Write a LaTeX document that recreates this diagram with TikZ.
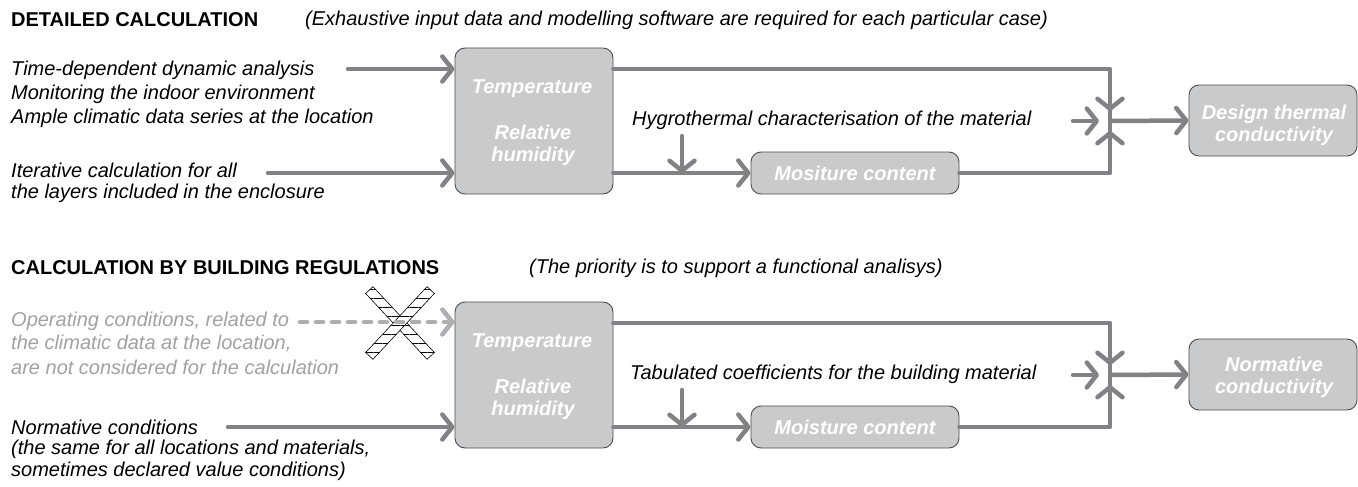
\documentclass[tikz,border=0pt]{standalone}
\usepackage{fontspec}
\setmainfont{Liberation Sans}
\usetikzlibrary{arrows.meta,patterns.meta}
\definecolor{connc}{RGB}{128,130,133}
\definecolor{boxfill}{RGB}{201,202,204}
\definecolor{boxline}{RGB}{77,77,79}
\definecolor{greytext}{RGB}{160,162,165}
\definecolor{dashgrey}{RGB}{172,174,177}
\begin{document}
\begin{tikzpicture}[x=1pt,y=-1pt,
  conn/.style={draw=connc, line width=4.5pt, line cap=round, line join=round},
  arr/.style={conn, -{Straight Barb[length=10pt,width=25pt,round]}},
  dashline/.style={draw=dashgrey, line width=4.5pt, line cap=round, dash pattern=on 7pt off 9pt, -{Straight Barb[length=10pt,width=25pt,round]}},
  boxstyle/.style={draw=boxline, fill=boxfill, line width=0.9pt, rounded corners=10pt, inner sep=0pt},
  btext/.style={text=white, font=\fontsize{20}{22}\selectfont\bfseries\itshape, align=center, inner sep=0pt},
  txt/.style={anchor=west, inner sep=0pt, font=\fontsize{20}{24}\selectfont\itshape},
  gtxt/.style={txt, text=greytext},
  title/.style={anchor=west, inner sep=0pt, font=\fontsize{20}{24}\selectfont\bfseries},
  xbar/.style={draw=black, line width=0.6pt, preaction={fill=white}, pattern={Lines[angle=0,distance=9pt,line width=0.6pt]}, minimum width=90pt, minimum height=10pt, inner sep=0pt}
]
\fill[white] (0,0) rectangle (1358,487);
\useasboundingbox (0,0) rectangle (1358,487);

% ---------- top section ----------
\node[title] (T1) at (11,20) {DETAILED CALCULATION};
\node[txt] (S1) at (305,20) {(Exhaustive input data and modelling software are required for each particular case)};

\node[txt] (a1) at (11,70) {Time-dependent dynamic analysis};
\node[txt] (a2) at (11,94) {Monitoring the indoor environment};
\node[txt] (a3) at (11,118) {Ample climatic data series at the location};
\node[txt] (a4) at (11,170) {Iterative calculation for all};
\node[txt] (a5) at (11,193) {the layers included in the enclosure};

\node[boxstyle, minimum width=158pt, minimum height=146pt] (B1) at (534,121) {};
\node[btext] (tp1) at (532,89) {Temperature};
\node[btext] (rh1) at (533,145) {Relative\\humidity};
\node[boxstyle, btext, minimum width=208pt, minimum height=42pt] (M1) at (855,173) {Mositure content};
\node[boxstyle, minimum width=168pt, minimum height=71pt] (D1) at (1273,120.5) {};
\node[btext] (D1t) at (1274,125) {Design thermal\\conductivity};
\node[txt] (h1) at (632,120) {Hygrothermal characterisation of the material};

\coordinate (i1) at (348,69);
\coordinate (i2) at (268,173);
\coordinate (c1) at (1110,69);
\coordinate (c2) at (1110,173);
\coordinate (J1) at (1110,121);
\coordinate (J1t) at (1110,111);
\coordinate (J1b) at (1110,131);
\coordinate (J1l) at (1099,121);
\coordinate (l1) at (1073,121);
\coordinate (d1) at (682,136);

\draw[arr] (i1) -- (B1.west |- i1);
\draw[arr] (i2) -- (B1.west |- i2);
\draw[conn] (J1t) -- (J1b);
\draw[arr] (B1.east |- c1) -- (c1) -- (J1t);
\draw[arr] (M1.east) -- (c2) -- (J1b);
\draw[arr] (l1) -- (J1l);
\draw[arr] (J1) -- (D1.west);
\draw[arr] (B1.east |- M1.west) -- (M1.west);
\draw[arr] (d1) -- (d1 |- M1.west);

% ---------- bottom section ----------
\node[title] (T2) at (11,268) {CALCULATION BY BUILDING REGULATIONS};
\node[txt] (S2) at (529,268) {(The priority is to support a functional analisys)};

\node[gtxt] (g1) at (11,321) {Operating conditions, related to};
\node[gtxt] (g2) at (11,344) {the climatic data at the location,};
\node[gtxt] (g3) at (11,367) {are not considered for the calculation};
\node[txt] (n1) at (11,427) {Normative conditions};
\node[txt] (n2) at (11,449) {(the same for all locations and materials,};
\node[txt] (n3) at (11,471) {sometimes declared value conditions)};

\node[boxstyle, minimum width=158pt, minimum height=146pt] (B2) at (534,375) {};
\node[btext] (tp2) at (532,343) {Temperature};
\node[btext] (rh2) at (533,399) {Relative\\humidity};
\node[boxstyle, btext, minimum width=208pt, minimum height=42pt] (M2) at (855,427) {Moisture content};
\node[boxstyle, minimum width=168pt, minimum height=71pt] (D2) at (1273,374.5) {};
\node[btext] (D2t) at (1274,377) {Normative\\conductivity};
\node[txt] (h2) at (630,374) {Tabulated coefficients for the building material};

\coordinate (i3) at (300,322);
\coordinate (i4) at (228,427);
\coordinate (c3) at (1110,323);
\coordinate (c4) at (1110,427);
\coordinate (J2) at (1110,375);
\coordinate (J2t) at (1110,365);
\coordinate (J2b) at (1110,385);
\coordinate (J2l) at (1099,375);
\coordinate (l2) at (1073,375);
\coordinate (d2) at (682,390);

\node[xbar, rotate=-47] (xa) at (400,323) {};
\node[xbar, rotate=47] (xb) at (400,323) {};
\draw[dashline] (i3) -- (B2.west |- i3);
\draw[arr] (i4) -- (B2.west |- i4);
\draw[conn] (J2t) -- (J2b);
\draw[arr] (B2.east |- c3) -- (c3) -- (J2t);
\draw[arr] (M2.east) -- (c4) -- (J2b);
\draw[arr] (l2) -- (J2l);
\draw[arr] (J2) -- (D2.west);
\draw[arr] (B2.east |- M2.west) -- (M2.west);
\draw[arr] (d2) -- (d2 |- M2.west);
\end{tikzpicture}
\end{document}
